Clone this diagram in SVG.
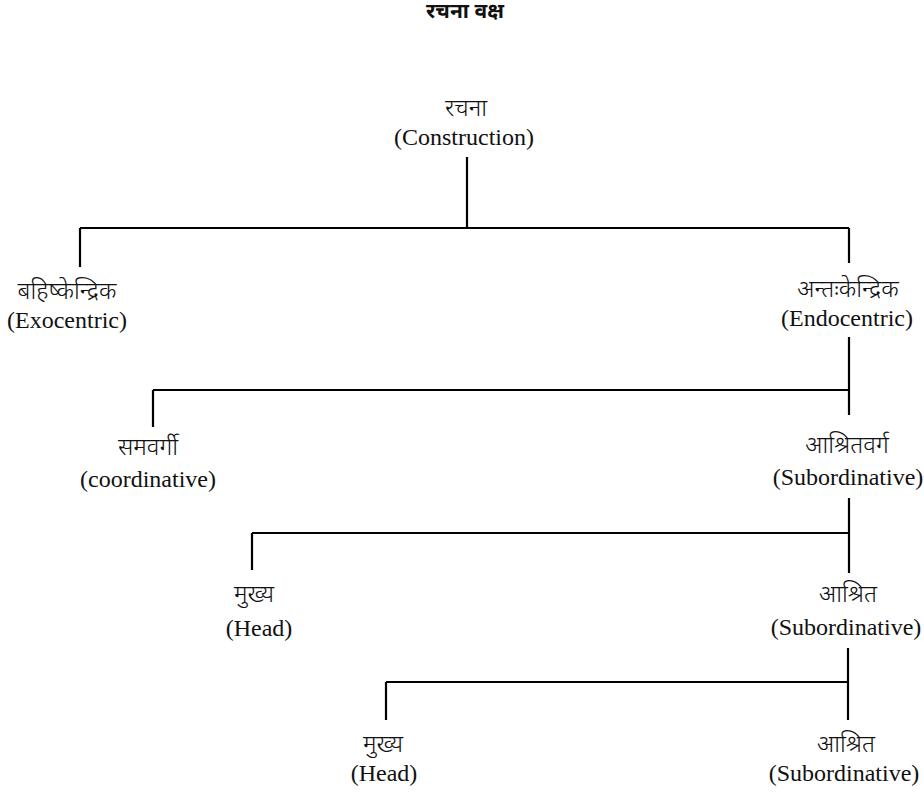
<svg xmlns="http://www.w3.org/2000/svg" width="924" height="794" viewBox="0 0 924 794">
<style>
.hi{font-family:"Noto Sans Devanagari","Noto Serif Devanagari","Noto Sans",sans-serif;font-size:24px;font-weight:300;fill:#111;text-anchor:middle}
.en{font-family:"Liberation Serif","DejaVu Serif",serif;font-size:24px;fill:#111;text-anchor:middle}
.title{font-family:"Noto Sans Devanagari","Noto Sans",sans-serif;font-size:21px;font-weight:bold;fill:#111;text-anchor:middle}
.ln{stroke:#000;stroke-width:2.2;fill:none}
</style>
<rect width="924" height="794" fill="#fff"/>
<text class="title" x="465" y="18">रचना वक्ष</text>
<g id="connectors">
<path class="ln" d="M467 157V228M80 228H849M80 228V267M849 228V263"/>
<path class="ln" d="M849 337V415M153 390H849M153 390V427"/>
<path class="ln" d="M849 498V573M252 533H849M252 533V570"/>
<path class="ln" d="M848 648V720M386 682H848M386 682V720"/>
</g>
<g id="root"><text class="hi" x="466" y="116">रचना</text><text class="en" x="464" y="145">(Construction)</text></g>
<g id="exo"><text class="hi" x="67" y="299">बहिष्केन्द्रिक</text><text class="en" x="67" y="328">(Exocentric)</text></g>
<g id="endo"><text class="hi" x="848" y="297">अन्तःकेन्द्रिक</text><text class="en" x="847" y="326">(Endocentric)</text></g>
<g id="coord"><text class="hi" x="148" y="455">समवर्गी</text><text class="en" x="148" y="487">(coordinative)</text></g>
<g id="subcat"><text class="hi" x="847" y="453">आश्रितवर्ग</text><text class="en" x="848" y="485">(Subordinative)</text></g>
<g id="head1"><text class="hi" x="254" y="602">मुख्य</text><text class="en" x="259" y="636">(Head)</text></g>
<g id="sub1"><text class="hi" x="848" y="602">आश्रित</text><text class="en" x="846" y="635">(Subordinative)</text></g>
<g id="head2"><text class="hi" x="383" y="752">मुख्य</text><text class="en" x="384" y="781">(Head)</text></g>
<g id="sub2"><text class="hi" x="846" y="752">आश्रित</text><text class="en" x="844" y="781">(Subordinative)</text></g>
</svg>
